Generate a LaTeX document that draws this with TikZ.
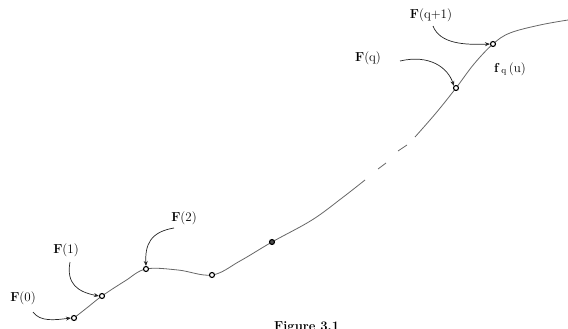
\documentclass[tikz,border=0pt]{standalone}
\usetikzlibrary{arrows.meta}
\begin{document}
\begin{tikzpicture}[x=1pt,y=-1pt,
  curve/.style={draw=black!60, line width=0.8pt},
  pt/.style={circle, draw=black, line width=1.1pt, fill=white, inner sep=0pt, minimum size=5pt},
  ptfill/.style={pt, fill=black!70},
  lab/.style={font=\fontsize{13}{15}\selectfont, inner sep=1pt},
  arr/.style={draw=black!85, line width=0.7pt, -{Stealth[length=5pt,width=4pt]}}]
\useasboundingbox (0,0) rectangle (568,329);
\clip (0,0) rectangle (568,329);
% curve coordinates
\coordinate (c0) at (74,318);
\coordinate (c1) at (102,296);
\coordinate (c2) at (146,269);
\coordinate (c3) at (212,275);
\coordinate (c4) at (272,242);
\coordinate (cq) at (456,88);
\coordinate (cq1) at (493,44);
% curve
\draw[curve] plot[smooth, tension=0.6] coordinates {(c0) (88,307) (c1) (125,281) (c2) (178,270) (c3) (240,261) (c4) (312,220) (342,198) (365,180)};
\draw[curve] (378,169) -- (386,163);
\draw[curve] (398,151) -- (407,145);
\draw[curve] plot[smooth, tension=0.6] coordinates {(415,137) (436,113) (cq) (474,64) (cq1) (510,33) (540,25) (568,20)};
% points
\node[pt] (p0) at (c0) {};
\node[pt] (p1) at (c1) {};
\node[pt] (p2) at (c2) {};
\node[pt] (p3) at (c3) {};
\node[ptfill] (p4) at (c4) {};
\node[pt] (pq) at (cq) {};
\node[pt] (pq1) at (cq1) {};
% labels
\node[lab] (l0) at (23,298) {\textbf{F}(0)};
\node[lab] (l1) at (66,250) {\textbf{F}(1)};
\node[lab] (l2) at (184,218) {\textbf{F}(2)};
\node[lab] (lq) at (368,58) {\textbf{F}(q)};
\node[lab] (lq1) at (431,15) {\textbf{F}(q+1)};
\node[lab] (lf) at (510,69) {\textbf{f}$_{\,\mathrm{q}}$\,(u)};
\node[lab, anchor=north west] (cap) at (273,320) {\textbf{Figure 3.1}};
% arrows
\coordinate (s0) at (33,312);
\coordinate (s1) at (70,262);
\coordinate (s2) at (174,228);
\coordinate (sq) at (400,61);
\coordinate (sq1) at (433,26);
\draw[arr] (s0) .. controls (40,322) and (55,320) .. (p0.west);
\draw[arr] (s1) .. controls (66,284) and (78,292) .. (p1.west);
\draw[arr] (s2) .. controls (150,232) and (145,245) .. (p2.north);
\draw[arr] (sq) .. controls (430,54) and (448,68) .. (pq.north west);
\draw[arr] (sq1) .. controls (440,44) and (465,45) .. (pq1.west);
\end{tikzpicture}
\end{document}
